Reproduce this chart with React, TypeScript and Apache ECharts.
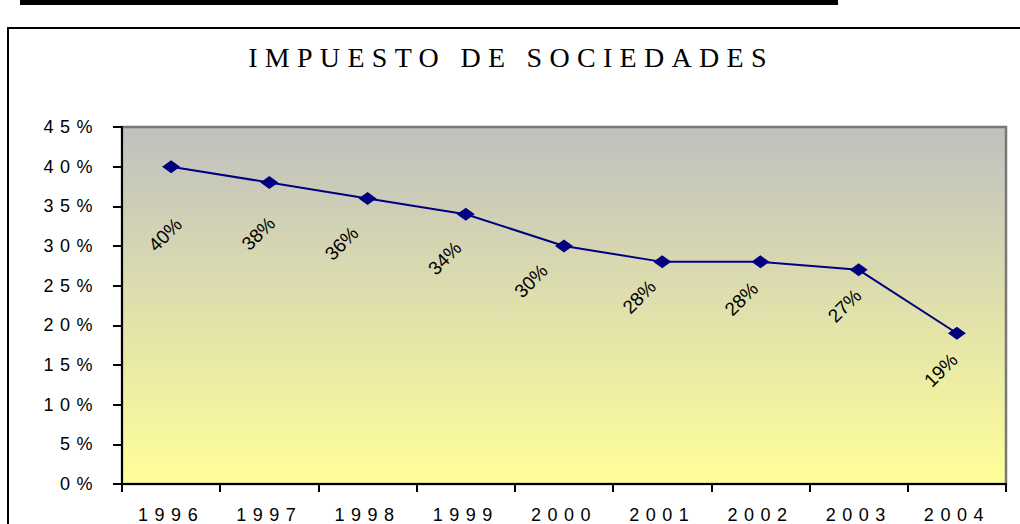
import React, { useEffect, useRef } from "react";
import * as echarts from "echarts";

const TITLE = "IMPUESTO DE SOCIEDADES";
const YEARS = ["1996", "1997", "1998", "1999", "2000", "2001", "2002", "2003", "2004"];
const RATES = [40, 38, 36, 34, 30, 28, 28, 27, 19];
const Y_MIN = 0;
const Y_MAX = 45;
const Y_STEP = 5;

// label displacement (px) from each marker, as placed in the reference
const LABEL_DX = [-6, -11, -26, -21, -33, -23, -19, -14, -16];
const LABEL_DY = [68, 51, 45, 44, 35, 35, 37, 36, 37];

const CSS = `
.ipchart text[style*="Liberation Serif"] { letter-spacing: 7.3px; }
.ipchart text[style*="sans-serif"] { letter-spacing: 6.5px; }
`;

export default function App() {
  const ref = useRef<HTMLDivElement>(null);
  useEffect(() => {
    if (!ref.current) return;
    const chart = echarts.init(ref.current, null, { renderer: "svg" });
    chart.setOption({
      animation: false,
      backgroundColor: "#ffffff",
      graphic: [
        { type: "rect", shape: { x: 20, y: 0, width: 818, height: 5 }, style: { fill: "#000" }, silent: true },
        {
          type: "rect",
          shape: { x: 8, y: 28, width: 1100, height: 600 },
          style: { fill: "none", stroke: "#000", lineWidth: 2 },
          silent: true,
        },
        {
          type: "text",
          x: 511,
          y: 57,
          style: {
            text: TITLE,
            fontFamily: "Liberation Serif, serif",
            fontSize: 28,
            fill: "#000",
            align: "center",
            verticalAlign: "middle",
          },
        },
      ],
      grid: {
        left: 122,
        right: 14,
        top: 127,
        bottom: 40,
        show: true,
        borderColor: "#787878",
        borderWidth: 2.5,
        backgroundColor: new echarts.graphic.LinearGradient(0, 0, 0, 1, [
          { offset: 0, color: "#c0c0c0" },
          { offset: 1, color: "#ffff99" },
        ]),
      },
      xAxis: {
        type: "category",
        data: YEARS,
        boundaryGap: true,
        axisLine: { show: true, lineStyle: { color: "#000", width: 2 } },
        axisTick: { show: true, length: 8, lineStyle: { color: "#000", width: 2 }, alignWithLabel: false },
        axisLabel: {
          color: "#000",
          fontSize: 18,
          fontFamily: "Liberation Sans, sans-serif",
          margin: 22,
          interval: 0,
        },
        splitLine: { show: false },
      },
      yAxis: {
        type: "value",
        min: Y_MIN,
        max: Y_MAX,
        interval: Y_STEP,
        axisLine: { show: true, lineStyle: { color: "#000", width: 2 } },
        axisTick: { show: true, length: 9, lineStyle: { color: "#000", width: 2 } },
        axisLabel: {
          color: "#000",
          fontSize: 18,
          fontFamily: "Liberation Sans, sans-serif",
          margin: 23,
          formatter: (v: number) => `${v}%`,
        },
        splitLine: { show: false },
      },
      series: [
        {
          type: "line",
          data: RATES,
          symbol: "diamond",
          symbolSize: [18, 13],
          itemStyle: { color: "#000080" },
          lineStyle: { color: "#000080", width: 2 },
          label: {
            show: true,
            formatter: (p: any) => `${p.value}%`,
            rotate: 45,
            color: "#000",
            fontSize: 19,
            fontFamily: "Liberation Sans, Arial",
            align: "center",
            verticalAlign: "middle",
          },
          labelLayout: (p: any) => ({
            x: p.rect.x + p.rect.width / 2 + LABEL_DX[p.dataIndex],
            y: p.rect.y + p.rect.height / 2 + LABEL_DY[p.dataIndex],
            rotate: 45,
            align: "center",
            verticalAlign: "middle",
          }),
          emphasis: { disabled: true },
        },
      ],
    });
    return () => chart.dispose();
  }, []);
  return (
    <div style={{ position: "absolute", left: 0, top: 0, width: 1020, height: 524 }}>
      <style>{CSS}</style>
      <div ref={ref} className="ipchart" style={{ width: 1020, height: 524 }} />
    </div>
  );
}
